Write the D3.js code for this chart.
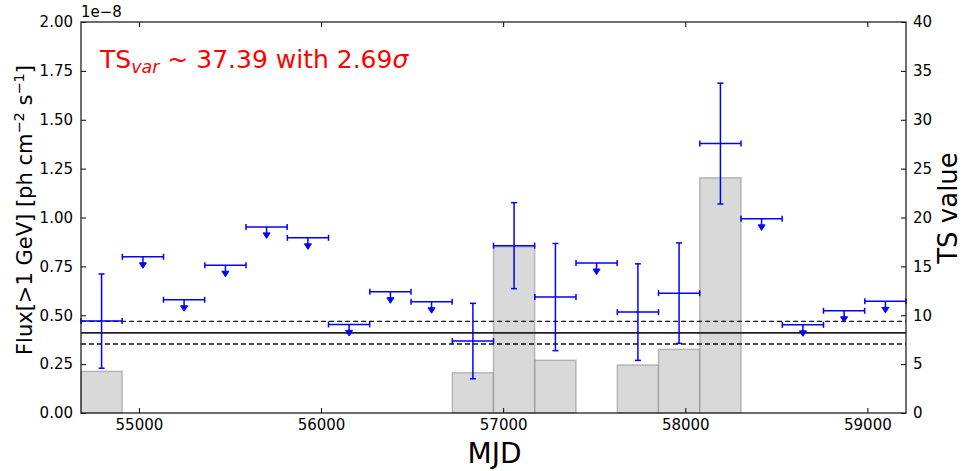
<!DOCTYPE html>
<html>
<head>
<meta charset="utf-8">
<script src="https://cdn.jsdelivr.net/npm/d3@7"></script>
<style>
  body { margin: 0; background: #fff; }
  svg { display: block; font-family: "DejaVu Sans", sans-serif; }
</style>
</head>
<body>
<svg id="chart" width="962" height="471"></svg>
<script>
// ---- data ----
const binCenters = [54795, 55022, 55248, 55475, 55701, 55928, 56154, 56381, 56607, 56834,
                    57060, 57287, 57513, 57740, 57966, 58193, 58419, 58646, 58872, 59099];
const binHalfWidth = [113, 113, 113, 113, 113, 113, 113, 113, 113, 113,
                      113, 113, 113, 113, 113, 113, 113, 113, 113, 113];
// flux in units of 1e-8 ph cm^-2 s^-1
const flux = [0.470, 0.799, 0.579, 0.756, 0.952, 0.896, 0.453, 0.620, 0.569, 0.368,
              0.856, 0.593, 0.767, 0.516, 0.613, 1.378, 0.993, 0.451, 0.523, 0.571];
const fluxErr = [0.241, 0, 0, 0, 0, 0, 0, 0, 0, 0.193,
                 0.220, 0.274, 0, 0.247, 0.257, 0.309, 0, 0, 0, 0];
const upperLimit = [false, true, true, true, true, true, true, true, true, false,
                    false, false, true, false, false, false, true, true, true, true];
const tsValue = [4.26, null, null, null, null, null, null, null, null, 4.12,
                 17.0, 5.39, null, 4.91, 6.51, 24.06, null, null, null, null];
const meanFlux = 0.410;
const meanFluxBand = [0.353, 0.469];
const xTicks = [55000, 56000, 57000, 58000, 59000];
const yTicks = [0, 0.25, 0.5, 0.75, 1.0, 1.25, 1.5, 1.75, 2.0];
const tsTicks = [0, 5, 10, 15, 20, 25, 30, 35, 40];
const xDomain = [54682, 59212];

// ---- layout ----
const W = 962, H = 471;
const m = { left: 81, right: 906, top: 22, bottom: 413 };
const svg = d3.select("#chart");

const x = d3.scaleLinear().domain(xDomain).range([m.left, m.right]);
const y = d3.scaleLinear().domain([0, 2]).range([m.bottom, m.top]);
const yTS = d3.scaleLinear().domain([0, 40]).range([m.bottom, m.top]);

const idx = d3.range(binCenters.length);

// TS bars
const barsG = svg.append("g");
barsG.selectAll("rect")
  .data(idx.filter(i => tsValue[i] !== null))
  .join("rect")
  .attr("x", i => x(binCenters[i] - binHalfWidth[i]))
  .attr("width", i => x(binCenters[i] + binHalfWidth[i]) - x(binCenters[i] - binHalfWidth[i]))
  .attr("y", i => yTS(tsValue[i]))
  .attr("height", i => yTS(0) - yTS(tsValue[i]))
  .attr("fill", "#d9d9d9")
  .attr("stroke", "rgba(120,120,120,0.45)")
  .attr("stroke-width", 1.5);

// mean lines
svg.append("line")
  .attr("x1", m.left).attr("x2", m.right)
  .attr("y1", y(meanFlux)).attr("y2", y(meanFlux))
  .attr("stroke", "#222").attr("stroke-width", 1.6);
meanFluxBand.forEach(v => {
  svg.append("line")
    .attr("x1", m.left).attr("x2", m.right)
    .attr("y1", y(v)).attr("y2", y(v))
    .attr("stroke", "#111").attr("stroke-width", 1.3)
    .attr("stroke-dasharray", "5,3");
});

// points
const blue = "#0000ff";
const cap = 3;
const ptG = svg.append("g").attr("stroke", blue).attr("stroke-width", 1.5).attr("fill", "none");
idx.forEach(i => {
  const cx = x(binCenters[i]);
  const x0 = x(binCenters[i] - binHalfWidth[i]);
  const x1 = x(binCenters[i] + binHalfWidth[i]);
  const cy = y(flux[i]);
  ptG.append("line").attr("x1", x0).attr("x2", x1).attr("y1", cy).attr("y2", cy);
  ptG.append("line").attr("x1", x0).attr("x2", x0).attr("y1", cy - cap).attr("y2", cy + cap);
  ptG.append("line").attr("x1", x1).attr("x2", x1).attr("y1", cy - cap).attr("y2", cy + cap);
  if (upperLimit[i]) {
    ptG.append("line").attr("x1", cx).attr("x2", cx).attr("y1", cy).attr("y2", cy + 7);
    ptG.append("path")
      .attr("d", `M${cx - 3.5},${cy + 6} L${cx + 3.5},${cy + 6} L${cx},${cy + 11.5} Z`)
      .attr("fill", blue).attr("stroke", blue).attr("stroke-width", 1);
  } else {
    const yt = y(flux[i] + fluxErr[i]);
    const yb = y(flux[i] - fluxErr[i]);
    ptG.append("line").attr("x1", cx).attr("x2", cx).attr("y1", yt).attr("y2", yb);
    ptG.append("line").attr("x1", cx - cap).attr("x2", cx + cap).attr("y1", yt).attr("y2", yt);
    ptG.append("line").attr("x1", cx - cap).attr("x2", cx + cap).attr("y1", yb).attr("y2", yb);
  }
});

// axes
const fontSize = "15px";
function styleAxis(g) {
  g.select(".domain").remove();
  g.selectAll(".tick line").attr("stroke", "#000").attr("stroke-width", 1);
  g.selectAll(".tick text").attr("fill", "#000").style("font-size", fontSize)
    .style("font-family", "DejaVu Sans, sans-serif");
}
svg.append("g").attr("transform", `translate(0,${m.bottom})`)
  .call(d3.axisBottom(x).tickValues(xTicks).tickFormat(d3.format("d")).tickSize(-5).tickPadding(6))
  .call(styleAxis);
svg.append("g").attr("transform", `translate(0,${m.top})`)
  .call(d3.axisTop(x).tickValues(xTicks).tickFormat("").tickSize(-5))
  .call(styleAxis);
svg.append("g").attr("transform", `translate(${m.left},0)`)
  .call(d3.axisLeft(y).tickValues(yTicks).tickFormat(d3.format(".2f")).tickSize(-5).tickPadding(8))
  .call(styleAxis);
svg.append("g").attr("transform", `translate(${m.right},0)`)
  .call(d3.axisRight(yTS).tickValues(tsTicks).tickFormat(d3.format("d")).tickSize(-5).tickPadding(7))
  .call(styleAxis);

// frame
svg.append("rect")
  .attr("x", m.left).attr("y", m.top)
  .attr("width", m.right - m.left).attr("height", m.bottom - m.top)
  .attr("fill", "none").attr("stroke", "#222").attr("stroke-width", 1.3);

// offset text
svg.append("text").attr("x", m.left).attr("y", 17)
  .style("font-size", fontSize).text("1e\u22128");

// axis labels
svg.append("text").attr("x", (m.left + m.right) / 2 + 1).attr("y", 463)
  .attr("text-anchor", "middle").style("font-size", "28px").text("MJD");

const yl = svg.append("text")
  .attr("transform", `translate(32,210) rotate(-90)`)
  .attr("text-anchor", "middle").style("font-size", "21px");
yl.append("tspan").text("Flux[>1 GeV] [ph cm");
yl.append("tspan").attr("dy", -8).style("font-size", "14.5px").text("\u22122");
yl.append("tspan").attr("dy", 8).text(" s");
yl.append("tspan").attr("dy", -8).style("font-size", "14.5px").text("\u22121");
yl.append("tspan").attr("dy", 8).text("]");

svg.append("text")
  .attr("transform", `translate(957,208) rotate(-90)`)
  .attr("text-anchor", "middle").style("font-size", "26px").text("TS value");

// annotation
const ann = svg.append("text").attr("x", 100).attr("y", 68)
  .attr("fill", "#ff0000").style("font-size", "25px");
ann.append("tspan").text("TS");
ann.append("tspan").attr("dy", 5).style("font-size", "17.5px").style("font-style", "italic").text("var");
ann.append("tspan").attr("dy", -5).text(" ~ 37.39 with 2.69");
ann.append("tspan").style("font-style", "italic").text("\u03c3");
</script>
</body>
</html>
